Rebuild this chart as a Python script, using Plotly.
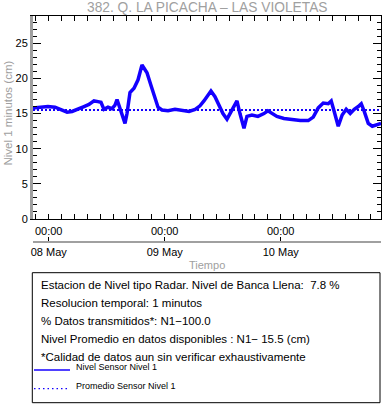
import plotly.graph_objects as go

# ---- data ----
times = [
    "2024-05-07 20:45", "2024-05-07 22:12", "2024-05-07 23:50", "2024-05-08 01:18",
    "2024-05-08 02:45", "2024-05-08 03:48", "2024-05-08 04:50", "2024-05-08 06:04",
    "2024-05-08 07:18", "2024-05-08 08:20", "2024-05-08 09:22", "2024-05-08 10:12",
    "2024-05-08 10:49", "2024-05-08 11:26", "2024-05-08 12:16", "2024-05-08 13:06",
    "2024-05-08 13:43", "2024-05-08 14:08", "2024-05-08 14:45", "2024-05-08 15:22",
    "2024-05-08 15:47", "2024-05-08 16:12", "2024-05-08 16:49", "2024-05-08 17:39",
    "2024-05-08 18:29", "2024-05-08 19:18", "2024-05-08 19:43", "2024-05-08 20:20",
    "2024-05-08 21:10", "2024-05-08 22:00", "2024-05-08 22:37", "2024-05-08 23:26",
    "2024-05-09 00:41", "2024-05-09 02:08", "2024-05-09 03:35", "2024-05-09 05:02",
    "2024-05-09 06:18", "2024-05-09 07:18", "2024-05-09 08:07", "2024-05-09 08:57",
    "2024-05-09 09:34", "2024-05-09 10:24", "2024-05-09 11:13", "2024-05-09 12:03",
    "2024-05-09 12:53", "2024-05-09 13:43", "2024-05-09 14:20", "2024-05-09 14:57",
    "2024-05-09 15:34", "2024-05-09 15:59", "2024-05-09 16:24", "2024-05-09 17:01",
    "2024-05-09 18:03", "2024-05-09 19:17", "2024-05-09 20:32", "2024-05-09 21:21",
    "2024-05-09 22:11", "2024-05-09 23:13", "2024-05-10 00:40", "2024-05-10 02:24",
    "2024-05-10 04:03", "2024-05-10 05:42", "2024-05-10 06:44", "2024-05-10 07:46",
    "2024-05-10 08:48", "2024-05-10 09:50", "2024-05-10 10:27", "2024-05-10 11:04",
    "2024-05-10 11:54", "2024-05-10 12:43", "2024-05-10 13:33", "2024-05-10 14:23",
    "2024-05-10 15:13", "2024-05-10 16:03", "2024-05-10 16:40", "2024-05-10 17:17",
    "2024-05-10 18:07", "2024-05-10 18:57", "2024-05-10 19:47", "2024-05-10 20:46",
]
nivel = [
    15.8, 15.9, 16.0, 15.9,
    15.5, 15.2, 15.3, 15.6,
    16.0, 16.3, 16.8, 16.7,
    16.6, 15.6, 15.9, 15.7,
    16.2, 17.0, 15.7, 14.6,
    13.6, 15.0, 18.0, 18.6,
    19.8, 21.9, 21.4, 20.8,
    19.0, 17.4, 15.9, 15.5,
    15.4, 15.6, 15.5, 15.3,
    15.6, 16.1, 16.8, 17.7,
    18.2, 17.4, 16.2, 15.0,
    14.2, 15.3, 16.0, 16.8,
    15.0, 14.0, 12.9, 14.6,
    14.8, 14.6, 15.0, 15.4,
    15.1, 14.6, 14.3, 14.1,
    14.0, 14.0, 14.5, 15.8,
    16.5, 16.4, 16.8, 15.3,
    13.2, 14.8, 15.6, 15.0,
    15.6, 16.0, 16.4, 15.3,
    13.6, 13.2, 13.4, 13.6,
]
promedio = 15.5
x_range = ["2024-05-07 20:45", "2024-05-10 20:45"]
y_range = [0, 28.88]

title_text = "382. Q. LA PICACHA \u2013 LAS VIOLETAS"
info_lines = [
    "Estacion de Nivel tipo Radar. Nivel de Banca Llena:  7.8 %",
    "Resolucion temporal: 1 minutos",
    "% Datos transmitidos*: N1\u2212100.0",
    "Nivel Promedio en datos disponibles : N1\u2212 15.5 (cm)",
    "*Calidad de datos aun sin verificar exhaustivamente",
]
legend_names = ["Nivel Sensor Nivel 1", "Promedio Sensor Nivel 1"]

FONT = "Liberation Sans, Arial, Helvetica, sans-serif"
BLUE = "#1400ff"
GRAY = "#a0a0a0"

# ---- geometry helpers (paper coords from pixel positions) ----
W, H = 382, 404
L, R, T, B = 33, 1, 16, 162
PW = W - L - R
PH = H - T - B
def px(x):
    return (x - L) / PW
def py(y):
    return (H - B - y) / PH
y_dom0 = py(219)

fig = go.Figure()
fig.add_trace(go.Scatter(x=x_range, y=[promedio, promedio], mode="lines",
                         line=dict(color=BLUE, width=2, dash="2px,2px"),
                         hoverinfo="skip", showlegend=False))
fig.add_trace(go.Scatter(x=times, y=nivel, mode="lines",
                         line=dict(color=BLUE, width=3.5),
                         showlegend=False))
# invisible companions so the extra axes render
fig.add_trace(go.Scatter(x=x_range, y=[promedio, promedio], xaxis="x2", yaxis="y",
                         mode="lines", opacity=0, hoverinfo="skip", showlegend=False))
fig.add_trace(go.Scatter(x=x_range, y=[promedio, promedio], xaxis="x", yaxis="y3",
                         mode="lines", opacity=0, hoverinfo="skip", showlegend=False))

tickfont = dict(family=FONT, size=11, color="black")
fig.update_layout(
    width=W, height=H,
    margin=dict(l=L, r=R, t=T, b=B, pad=0),
    paper_bgcolor="white", plot_bgcolor="white",
    font=dict(family=FONT),
    showlegend=False,
    xaxis=dict(range=x_range, type="date", anchor="y",
               tick0="2024-05-08", dtick=86400000, tickformat="%H:%M",
               ticks="inside", ticklen=5, tickcolor="black", tickwidth=1,
               minor=dict(dtick=9600000, ticks="inside", ticklen=3, tickcolor="black", showgrid=False),
               showline=True, linecolor="black", linewidth=1, mirror="allticks",
               showgrid=False, zeroline=False, tickfont=tickfont, ticklabelstandoff=2),
    xaxis2=dict(range=x_range, type="date", overlaying="x", anchor="free", position=0,
                tick0="2024-05-08", dtick=86400000, tickformat="%d %b",
                ticks="inside", ticklen=4, tickcolor="black",
                showline=True, linecolor=GRAY, linewidth=2,
                showgrid=False, zeroline=False, tickfont=tickfont),
    yaxis=dict(range=y_range, domain=[y_dom0, 1], anchor="x",
               dtick=5, tick0=0, ticks="inside", ticklen=8, tickcolor="black",
               minor=dict(dtick=1, ticks="inside", ticklen=4, tickcolor="black", showgrid=False),
               showline=True, linecolor=GRAY, linewidth=3,
               showgrid=False, zeroline=False, tickfont=tickfont),
    yaxis3=dict(range=y_range, domain=[y_dom0, 1], overlaying="y", side="right", anchor="x",
                dtick=5, tick0=0, ticks="inside", ticklen=8, tickcolor="black",
                minor=dict(dtick=1, ticks="inside", ticklen=4, tickcolor="black", showgrid=False),
                showline=True, linecolor="black", linewidth=1, showticklabels=False,
                showgrid=False, zeroline=False),
)

ann = []
ann.append(dict(text=title_text, x=0.5, y=py(7), xref="paper", yref="paper",
                xanchor="center", yanchor="middle", showarrow=False,
                font=dict(family=FONT, size=13.75, color=GRAY)))
ann.append(dict(text="Nivel 1 minutos (cm)", x=px(8), y=py(113.5), xref="paper", yref="paper",
                xanchor="center", yanchor="middle", textangle=-90, showarrow=False,
                font=dict(family=FONT, size=11.5, color=GRAY)))
ann.append(dict(text="Tiempo", x=px(207), y=py(264.5), xref="paper", yref="paper",
                xanchor="center", yanchor="middle", showarrow=False,
                font=dict(family=FONT, size=11, color=GRAY)))
line_y = [285, 302.7, 321, 339, 356.7]
for txt, yy in zip(info_lines, line_y):
    ann.append(dict(text=txt, x=px(39), y=py(yy), xref="paper", yref="paper",
                    xanchor="left", yanchor="middle", showarrow=False,
                    font=dict(family=FONT, size=11.5, color="black")))
for txt, yy in zip(legend_names, [367.3, 385.7]):
    ann.append(dict(text=txt, x=px(74), y=py(yy), xref="paper", yref="paper",
                    xanchor="left", yanchor="middle", showarrow=False,
                    font=dict(family=FONT, size=9, color="black")))
fig.update_layout(annotations=ann)

shapes = [
    dict(type="rect", xref="paper", yref="paper", x0=px(32.3), x1=px(380), y0=py(272.7), y1=py(402.7),
         line=dict(color="black", width=1), fillcolor="rgba(0,0,0,0)"),
    dict(type="line", xref="paper", yref="paper", x0=px(34), x1=px(70), y0=py(370), y1=py(370),
         line=dict(color=BLUE, width=1.3)),
    dict(type="line", xref="paper", yref="paper", x0=px(34), x1=px(67), y0=py(388.7), y1=py(388.7),
         line=dict(color=BLUE, width=1.3, dash="1.5px,3px")),
]
fig.update_layout(shapes=shapes)

fig.write_html("out.html",
               config={"displayModeBar": False},
               post_script="document.body.style.margin='0';document.body.style.overflow='hidden';")
